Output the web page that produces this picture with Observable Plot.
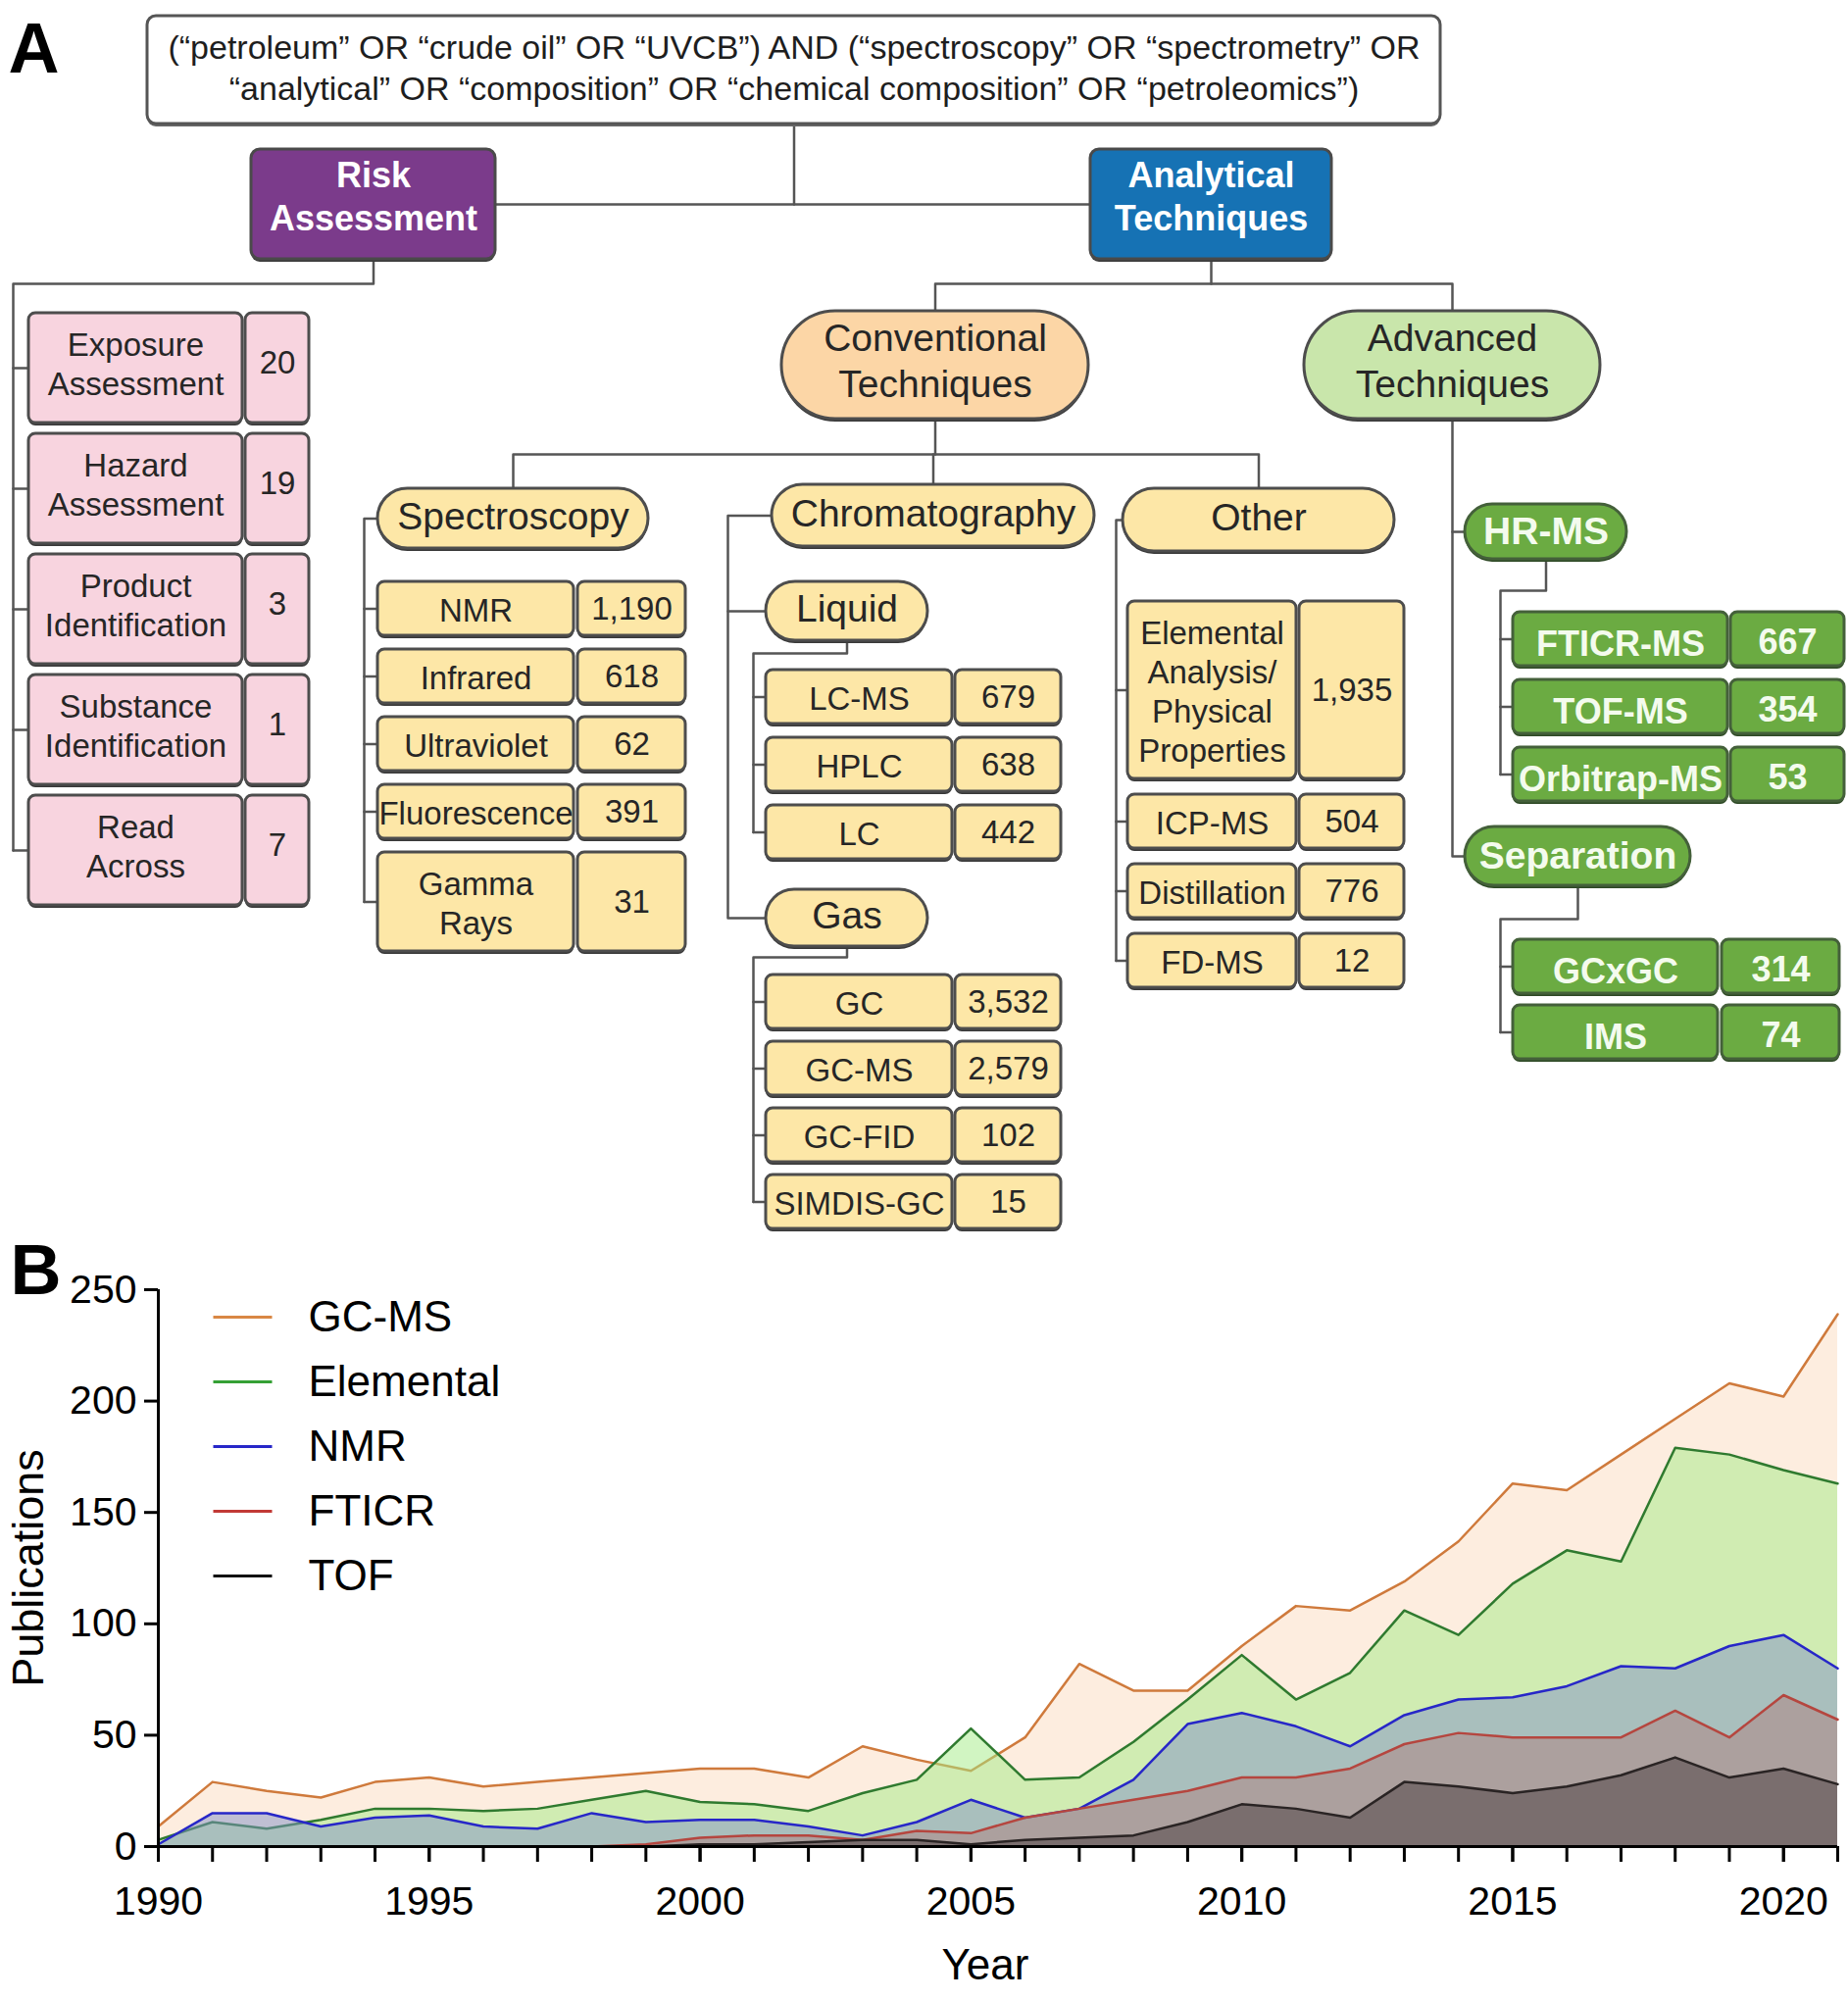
<!DOCTYPE html>
<html><head><meta charset="utf-8">
<script src="https://cdn.jsdelivr.net/npm/d3@7"></script>
<script src="https://cdn.jsdelivr.net/npm/@observablehq/plot@0.6"></script>
<style>body{margin:0;background:#fff;} #fig{width:1885px;} #fig svg{display:block;}</style>
</head><body><div id="fig"></div>
<script>
// ================= DATA: Panel A (tree) =================
const queryText = ["(“petroleum” OR “crude oil” OR “UVCB”) AND (“spectroscopy” OR “spectrometry” OR",
                   "“analytical” OR “composition” OR “chemical composition” OR “petroleomics”)"];
const branchNames = ["Risk\nAssessment", "Analytical\nTechniques"];
const techniqueNames = ["Conventional\nTechniques", "Advanced\nTechniques"];
const conventionalNames = ["Spectroscopy", "Chromatography", "Other"];
const chromatographyNames = ["Liquid", "Gas"];
const advancedNames = ["HR-MS", "Separation"];

const riskLabels = ["Exposure\nAssessment", "Hazard\nAssessment", "Product\nIdentification", "Substance\nIdentification", "Read\nAcross"];
const riskCounts = [20, 19, 3, 1, 7];
const spectroscopyLabels = ["NMR", "Infrared", "Ultraviolet", "Fluorescence", "Gamma\nRays"];
const spectroscopyCounts = [1190, 618, 62, 391, 31];
const liquidLabels = ["LC-MS", "HPLC", "LC"];
const liquidCounts = [679, 638, 442];
const gasLabels = ["GC", "GC-MS", "GC-FID", "SIMDIS-GC"];
const gasCounts = [3532, 2579, 102, 15];
const otherLabels = ["Elemental\nAnalysis/\nPhysical\nProperties", "ICP-MS", "Distillation", "FD-MS"];
const otherCounts = [1935, 504, 776, 12];
const hrmsLabels = ["FTICR-MS", "TOF-MS", "Orbitrap-MS"];
const hrmsCounts = [667, 354, 53];
const separationLabels = ["GCxGC", "IMS"];
const separationCounts = [314, 74];

// ================= DATA: Panel B (areas) =================
const years = [1990,1991,1992,1993,1994,1995,1996,1997,1998,1999,2000,2001,2002,2003,2004,2005,
               2006,2007,2008,2009,2010,2011,2012,2013,2014,2015,2016,2017,2018,2019,2020,2021];
const seriesNames = ["GC-MS", "Elemental", "NMR", "FTICR", "TOF"];
const gcms      = [9,29,25,22,29,31,27,29,31,33,35,35,31,45,39,34,49,82,70,70,90,108,106,119,137,163,160,176,192,208,202,239];
const elemental = [3,11,8,12,17,17,16,17,21,25,20,19,16,24,30,53,30,31,47,66,86,66,78,106,95,118,133,128,179,176,169,163];
const nmr       = [1,15,15,9,13,14,9,8,15,11,12,12,9,5,11,21,13,17,30,55,60,54,45,59,66,67,72,81,80,90,95,80];
const fticr     = [null,null,null,null,null,null,0,0,0,1,4,5,5,3,7,6,13,17,21,25,31,31,35,46,51,49,49,49,61,49,68,57];
const tof       = [null,null,null,null,null,null,0,0,0,0,1,1,2,3,3,1,3,4,5,11,19,17,13,29,27,24,27,32,40,31,35,28];
const yTicks = [0, 50, 100, 150, 200, 250];
const xLabelTicks = [1990, 1995, 2000, 2005, 2010, 2015, 2020];

// ================= STYLES / LAYOUT =================
const FONT = "Liberation Sans, Arial, Helvetica, sans-serif";
const W = 1885, HA = 1260, HB = 780;
const STYLE = {
  query:      {fill: "#ffffff", stroke: "#555555", shadow: "#6a6a6a", color: "#1e1e1e", size: 34, weight: "normal", lh: 1.24, dy: -4},
  purple:     {fill: "#7b3b8b", stroke: "#4a4a4a", shadow: "#3a3a3a", color: "#ffffff", size: 36, weight: "bold", lh: 1.22, dy: -10},
  blue:       {fill: "#1672b4", stroke: "#4a4a4a", shadow: "#3a3a3a", color: "#ffffff", size: 36, weight: "bold", lh: 1.22, dy: -10},
  peach:      {fill: "#fcd6a6", stroke: "#4d4d4d", shadow: "#3a3a3a", color: "#262626", size: 39, weight: "normal", lh: 1.2, dy: -6},
  lightgreen: {fill: "#c9e6ab", stroke: "#4d4d4d", shadow: "#3a3a3a", color: "#262626", size: 39, weight: "normal", lh: 1.2, dy: -6},
  yellow:     {fill: "#fde7a7", stroke: "#4d4d4d", shadow: "#3a3a3a", color: "#262626", size: 39, weight: "normal", lh: 1.2, dy: -4},
  green:      {fill: "#6bab42", stroke: "#44603a", shadow: "#2f4a26", color: "#f4fbee", size: 39, weight: "bold", lh: 1.2, dy: -2},
  pink:       {fill: "#f8d4df", stroke: "#4d4d4d", shadow: "#3a3a3a", color: "#262626", size: 33, weight: "normal", lh: 1.21, dy: -5},
  yellowLeaf: {fill: "#fde7a7", stroke: "#4d4d4d", shadow: "#3a3a3a", color: "#262626", size: 33, weight: "normal", lh: 1.21, dy: 0},
  greenLeaf:  {fill: "#6bab42", stroke: "#44603a", shadow: "#2f4a26", color: "#f4fbee", size: 36, weight: "bold", lh: 1.2, dy: 3}
};
// header boxes: [x1, x2, y1, y2] in pixels of panel A
const HEAD = {
  query: [150, 1469, 16, 126],
  risk: [256, 505, 152, 264],
  analytical: [1112, 1358, 152, 264],
  conventional: [797, 1110, 317, 427],
  advanced: [1330, 1632, 317, 427],
  spectroscopy: [385, 661, 498, 559],
  chromatography: [787, 1116, 494, 557],
  other: [1145, 1422, 498, 562],
  liquid: [781, 946, 593, 653],
  gas: [781, 946, 907, 965],
  hrms: [1494, 1659, 514, 570],
  separation: [1494, 1724, 843, 903]
};
const headers = [
  {id: "query", text: queryText.join("\n"), style: "query", pill: false},
  {id: "risk", text: branchNames[0], style: "purple", pill: false},
  {id: "analytical", text: branchNames[1], style: "blue", pill: false},
  {id: "conventional", text: techniqueNames[0], style: "peach", pill: true},
  {id: "advanced", text: techniqueNames[1], style: "lightgreen", pill: true},
  {id: "spectroscopy", text: conventionalNames[0], style: "yellow", pill: true},
  {id: "chromatography", text: conventionalNames[1], style: "yellow", pill: true},
  {id: "other", text: conventionalNames[2], style: "yellow", pill: true},
  {id: "liquid", text: chromatographyNames[0], style: "yellow", pill: true},
  {id: "gas", text: chromatographyNames[1], style: "yellow", pill: true},
  {id: "hrms", text: advancedNames[0], style: "green", pill: true},
  {id: "separation", text: advancedNames[1], style: "green", pill: true}
];
const leafGroups = [
  {id: "risk", labels: riskLabels, counts: riskCounts, style: "pink", lx: [29, 247], nx: [250, 315], top: 319, gap: 11, minH: 112, trunk: 13, link: "below", drop: 25},
  {id: "spectroscopy", labels: spectroscopyLabels, counts: spectroscopyCounts, style: "yellowLeaf", lx: [385, 585], nx: [589, 699], top: 593, gap: 14, minH: 0, trunk: 371, link: "side"},
  {id: "liquid", labels: liquidLabels, counts: liquidCounts, style: "yellowLeaf", lx: [781, 971], nx: [974, 1082], top: 683, gap: 14, minH: 0, trunk: 768, link: "below", drop: 13},
  {id: "gas", labels: gasLabels, counts: gasCounts, style: "yellowLeaf", lx: [781, 971], nx: [974, 1082], top: 994, gap: 13, minH: 0, trunk: 768, link: "below", drop: 11},
  {id: "other", labels: otherLabels, counts: otherCounts, style: "yellowLeaf", lx: [1150, 1322], nx: [1325, 1432], top: 613, gap: 16, minH: 0, trunk: 1138, link: "side"},
  {id: "hrms", labels: hrmsLabels, counts: hrmsCounts, style: "greenLeaf", lx: [1543, 1762], nx: [1765, 1881], top: 624, gap: 14, minH: 0, trunk: 1530, link: "below", drop: 32},
  {id: "separation", labels: separationLabels, counts: separationCounts, style: "greenLeaf", lx: [1543, 1752], nx: [1756, 1876], top: 958, gap: 12, minH: 0, trunk: 1530, link: "below", drop: 34}
];

const fmt = d3.format(",");
const cxOf = id => (HEAD[id][0] + HEAD[id][1]) / 2;
const cyOf = id => (HEAD[id][2] + HEAD[id][3]) / 2;

// ---- compute leaf rows ----
const leafRows = [];
for (const g of leafGroups) {
  let y = g.top;
  g.labels.forEach((lab, i) => {
    const n = lab.split("\n").length;
    const h = Math.max(g.minH, n === 1 ? 55 : 21 + 40 * n);
    leafRows.push({group: g.id, style: g.style, label: lab, count: fmt(g.counts[i]),
      lx1: g.lx[0], lx2: g.lx[1], nx1: g.nx[0], nx2: g.nx[1], y1: y, y2: y + h,
      lcx: (g.lx[0] + g.lx[1]) / 2, ncx: (g.nx[0] + g.nx[1]) / 2, cy: y + h / 2});
    y += h + g.gap;
  });
}

// ---- connectors ----
let pathCount = 0;
const P = [];
const add = pts => { pts.forEach(([x, y]) => P.push({id: pathCount, x, y})); pathCount++; };
const bus1 = cyOf("risk");
add([[cxOf("query"), HEAD.query[3]], [cxOf("query"), bus1]]);
add([[HEAD.risk[1], bus1], [HEAD.analytical[0], bus1]]);
const bus2 = HEAD.analytical[3] + 25;
add([[cxOf("analytical"), HEAD.analytical[3]], [cxOf("analytical"), bus2]]);
add([[cxOf("conventional"), HEAD.conventional[2]], [cxOf("conventional"), bus2], [cxOf("advanced"), bus2], [cxOf("advanced"), HEAD.advanced[2]]]);
const bus3 = HEAD.conventional[3] + 36;
add([[cxOf("conventional"), HEAD.conventional[3]], [cxOf("conventional"), bus3]]);
add([[cxOf("spectroscopy"), HEAD.spectroscopy[2]], [cxOf("spectroscopy"), bus3], [cxOf("other"), bus3], [cxOf("other"), HEAD.other[2]]]);
add([[cxOf("chromatography"), bus3], [cxOf("chromatography"), HEAD.chromatography[2]]]);
const advTrunk = cxOf("advanced");
add([[advTrunk, HEAD.advanced[3]], [advTrunk, cyOf("separation")], [HEAD.separation[0], cyOf("separation")]]);
add([[advTrunk, cyOf("hrms")], [HEAD.hrms[0], cyOf("hrms")]]);
const chromTrunk = 742;
add([[HEAD.chromatography[0], cyOf("chromatography")], [chromTrunk, cyOf("chromatography")], [chromTrunk, cyOf("gas")], [HEAD.gas[0], cyOf("gas")]]);
add([[chromTrunk, cyOf("liquid")], [HEAD.liquid[0], cyOf("liquid")]]);
for (const g of leafGroups) {
  const rows = leafRows.filter(r => r.group === g.id);
  const last = rows[rows.length - 1].cy;
  const H = HEAD[g.id];
  if (g.link === "side") {
    add([[H[0], cyOf(g.id)], [g.trunk, cyOf(g.id)], [g.trunk, last]]);
  } else {
    const yb = H[3] + g.drop;
    add([[cxOf(g.id), H[3]], [cxOf(g.id), yb], [g.trunk, yb], [g.trunk, last]]);
  }
  rows.forEach(r => add([[g.trunk, r.cy], [r.lx1, r.cy]]));
}

// ---- marks for panel A ----
const marksA = [];
marksA.push(Plot.line(P, {x: "x", y: "y", z: "id", stroke: "#555", strokeWidth: 2.5, strokeLinejoin: "round"}));
for (const h of headers) {
  const [x1, x2, y1, y2] = HEAD[h.id];
  const st = STYLE[h.style];
  const r = h.pill ? (y2 - y1) / 2 : 9;
  const d = [{x1, x2, y1, y2, cx: (x1 + x2) / 2, cy: (y1 + y2) / 2, text: h.text}];
  marksA.push(Plot.rect(d, {x1: "x1", x2: "x2", y1: "y1", y2: "y2", rx: r, ry: r, fill: st.shadow, dy: 3}));
  marksA.push(Plot.rect(d, {x1: "x1", x2: "x2", y1: "y1", y2: "y2", rx: r, ry: r, fill: st.fill, stroke: st.stroke, strokeWidth: 3}));
  marksA.push(Plot.text(d, {x: "cx", y: "cy", text: "text", fill: st.color, fontSize: st.size, fontWeight: st.weight, lineHeight: st.lh, lineAnchor: "middle", dy: st.dy}));
}
for (const sName of ["pink", "yellowLeaf", "greenLeaf"]) {
  const rows = leafRows.filter(r => r.style === sName);
  const st = STYLE[sName];
  marksA.push(Plot.rect(rows, {x1: "lx1", x2: "lx2", y1: "y1", y2: "y2", rx: 7, ry: 7, fill: st.shadow, dy: 3}));
  marksA.push(Plot.rect(rows, {x1: "nx1", x2: "nx2", y1: "y1", y2: "y2", rx: 7, ry: 7, fill: st.shadow, dy: 3}));
  marksA.push(Plot.rect(rows, {x1: "lx1", x2: "lx2", y1: "y1", y2: "y2", rx: 7, ry: 7, fill: st.fill, stroke: st.stroke, strokeWidth: 3}));
  marksA.push(Plot.rect(rows, {x1: "nx1", x2: "nx2", y1: "y1", y2: "y2", rx: 7, ry: 7, fill: st.fill, stroke: st.stroke, strokeWidth: 3}));
  marksA.push(Plot.text(rows, {x: "lcx", y: "cy", text: "label", fill: st.color, fontSize: st.size, fontWeight: st.weight, lineHeight: st.lh, lineAnchor: "middle", dy: st.dy}));
  marksA.push(Plot.text(rows, {x: "ncx", y: "cy", text: "count", fill: st.color, fontSize: st.size, fontWeight: st.weight, lineAnchor: "middle", dy: st.dy}));
}
marksA.push(Plot.text(["A"], {frameAnchor: "top-left", dx: 8, dy: 22, text: d => d, textAnchor: "start", lineAnchor: "top", fontSize: 72, fontWeight: "bold", fill: "#000"}));

const plotA = Plot.plot({
  width: W, height: HA, margin: 0,
  x: {domain: [0, W], range: [0, W], axis: null},
  y: {domain: [0, HA], range: [0, HA], axis: null},
  style: {fontFamily: FONT, background: "#fff", overflow: "visible"},
  marks: marksA
});

// ================= Panel B =================
const seriesValues = [gcms, elemental, nmr, fticr, tof];
const lineColors = ["#cf7a3c", "#2f7a2f", "#2727c8", "#b5463f", "#2a2424"];
const legendColors = ["#d98744", "#35a035", "#2727c8", "#c23a36", "#111111"];
const fillColors = ["#f4a460", "#a3ec85", "#8292c8", "#af817f", "#594d4e"];
const fillOpacities = [0.2, 0.5, 0.5, 0.5, 0.6];
const hLine = {draw(context) { context.moveTo(-30, 0); context.lineTo(30, 0); }};

const marksB = [];
seriesNames.forEach((name, i) => {
  const rows = years.map((yr, j) => ({year: yr, value: seriesValues[i][j]})).filter(d => d.value != null);
  marksB.push(Plot.areaY(rows, {x: "year", y1: 0, y2: "value", fill: fillColors[i], fillOpacity: fillOpacities[i]}));
  marksB.push(Plot.lineY(rows, {x: "year", y: "value", stroke: lineColors[i], strokeWidth: 2.5}));
});
marksB.push(Plot.ruleY([0], {x1: 1990, x2: 2021, stroke: "#000", strokeWidth: 3}));
marksB.push(Plot.ruleX([1990], {y1: 0, y2: 250, stroke: "#000", strokeWidth: 3}));
marksB.push(Plot.axisX({ticks: years, tickSize: 16, tickFormat: () => "", strokeWidth: 3, label: null}));
marksB.push(Plot.axisX({ticks: xLabelTicks, tickSize: 16, tickPadding: 24, tickFormat: "d", strokeWidth: 3, fontSize: 41, fill: "#000", label: null}));
marksB.push(Plot.axisY({ticks: yTicks, tickSize: 14, tickPadding: 8, tickFormat: "d", strokeWidth: 3, fontSize: 41, fill: "#000", label: null}));
seriesNames.forEach((name, i) => {
  marksB.push(Plot.dot([name], {frameAnchor: "top-left", dx: 86, dy: 28 + 66 * i, symbol: hLine, r: 10, fill: "none", stroke: legendColors[i], strokeWidth: 3}));
  marksB.push(Plot.text([name], {frameAnchor: "top-left", dx: 153, dy: 28 + 66 * i, text: d => d, textAnchor: "start", lineAnchor: "middle", fontSize: 44, fill: "#000"}));
});
marksB.push(Plot.text(["Publications"], {frameAnchor: "left", dx: -132, text: d => d, rotate: -90, fontSize: 45, fill: "#000", textAnchor: "middle", lineAnchor: "middle"}));
marksB.push(Plot.text(["Year"], {frameAnchor: "bottom", dx: -13, dy: 121, text: d => d, fontSize: 44, fill: "#000", textAnchor: "middle", lineAnchor: "middle"}));
marksB.push(Plot.text(["B"], {frameAnchor: "top-left", dx: -151, dy: -47, text: d => d, textAnchor: "start", lineAnchor: "top", fontSize: 72, fontWeight: "bold", fill: "#000"}));

const plotB = Plot.plot({
  width: W, height: HB,
  marginLeft: 161, marginRight: 11, marginTop: 55, marginBottom: 157,
  x: {domain: [1990, 2021], axis: null, label: null},
  y: {domain: [0, 250], axis: null, label: null},
  style: {fontFamily: FONT, fontSize: "41px", background: "#fff", color: "#000", overflow: "visible"},
  marks: marksB
});

const fig = document.getElementById("fig");
fig.appendChild(plotA);
fig.appendChild(plotB);
</script></body></html>
